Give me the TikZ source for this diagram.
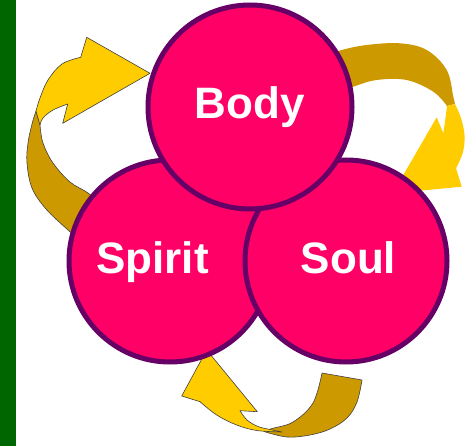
\documentclass[tikz,border=0pt]{standalone}
\usepackage{fontspec}
\setmainfont{Liberation Sans}
\definecolor{gbar}{HTML}{006600}
\definecolor{pinkc}{HTML}{FF0066}
\definecolor{rim}{HTML}{660066}
\definecolor{gold}{HTML}{FFCC00}
\definecolor{dgold}{HTML}{CC9900}
\begin{document}
\begin{tikzpicture}[x=1pt,y=-1pt,
 ball/.style={circle, draw=rim, fill=pinkc, line width=5pt, inner sep=0pt},
 lbl/.style={anchor=base, text=white, font=\fontsize{44}{44}\selectfont\bfseries, inner sep=0pt},
 band/.style={fill=dgold, draw=black!75, line width=0.6pt, line join=round},
 head/.style={fill=gold, draw=black!75, line width=0.6pt, line join=round},
 bandn/.style={fill=dgold},
 headn/.style={fill=gold}]
\useasboundingbox (0,0) rectangle (468,446);
\fill[white] (0,0) rectangle (468,446);
\fill[gbar] (0,0) rectangle (15.5,446);

% left arrow (Spirit -> Body)
\filldraw[band] (36,111) -- plot[smooth, tension=0.6] coordinates {(36,111) (32,124) (28,143) (27,163) (32,188) (46,209) (68,230) (85,245)}
  -- (100,205) -- plot[smooth, tension=0.6] coordinates {(100,205) (88,193) (70,182) (53,163) (43,143) (40,125)} -- cycle;
\filldraw[head] (150,73.3) -- (86.7,37.3) -- (80.7,57.3)
  -- plot[smooth, tension=0.6] coordinates {(80.7,57.3) (62,64) (48,80) (40,98) (36,111)}
  -- (40,125) -- plot[smooth, tension=0.6] coordinates {(40,125) (43,118) (53,110) (67.7,104)}
  -- (62.7,123.3) -- cycle;

% right arrow (Body -> Soul)
\fill[bandn] (330,55) -- plot[smooth, tension=0.6] coordinates {(330,55) (341.7,50) (366.7,45) (400,43.3) (426.7,50) (446.7,70) (453.3,96.7) (455,104)}
  -- (447,106) -- plot[smooth, tension=0.6] coordinates {(447,106) (433.3,91.7) (406.7,80) (376.7,80) (353.3,86.7) (340,92)} -- cycle;
\fill[headn] (455,104) -- plot[smooth, tension=0.6] coordinates {(455,104) (461,118) (464.5,135) (463,152) (456,168.3)}
  -- (461.7,186.7) -- (392.7,193.3) -- (436.7,117.3) -- (443.3,133.3)
  -- plot[smooth, tension=0.6] coordinates {(443.3,133.3) (445.5,118) (447,106)} -- cycle;

% bottom arrow (Soul -> Spirit)
\filldraw[band] (322,373) -- (362,380)
  -- plot[smooth, tension=0.6] coordinates {(362,380) (357,402) (347,418) (330,429) (310,435) (287,437) (264,431.5)}
  -- plot[smooth, tension=0.6] coordinates {(264,431.5) (272,428.5) (293,422) (313,403) (322,373)} -- cycle;
\filldraw[head] (206.7,350) -- (181.7,396) -- (200,401.7)
  -- plot[smooth, tension=0.6] coordinates {(200,401.7) (216.7,415) (236.7,425) (256.7,430.5) (282,432)}
  -- plot[smooth, tension=0.6] coordinates {(282,432) (270,429.5) (258,426.5) (247,420) (240,410.7)}
  -- (257.3,411.7) -- cycle;

% circles
\node[ball, minimum size=202pt] (spirit) at (170,261) {};
\node[ball, minimum size=202pt] (soul) at (346,261) {};
\node[ball, minimum size=204pt] (body) at (250,107) {};

\node[lbl] (bodyt) at (249.5,119) {Body};
\node[lbl] (spiritt) at (152.5,273) {Spirit};
\node[lbl] (soult) at (348.5,273) {Soul};
\end{tikzpicture}
\end{document}
